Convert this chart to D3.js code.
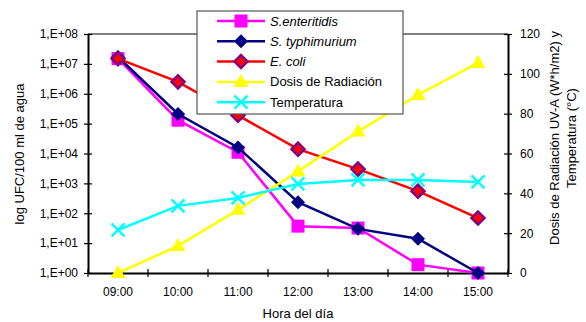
<!DOCTYPE html>
<html><head><meta charset="utf-8">
<script src="https://cdn.jsdelivr.net/npm/d3@7/dist/d3.min.js"></script>
<style>
body{margin:0;background:#fff;}
svg{font-family:"Liberation Sans",Arial,sans-serif;}
</style></head>
<body><svg id="c" width="586" height="322"></svg>
<script>
const categories = ["09:00","10:00","11:00","12:00","13:00","14:00","15:00"];
const enteritidis = [1.5e7, 1.3e5, 1.1e4, 37, 32, 1.9, 1];
const typhimurium = [1.7e7, 2.1e5, 1.6e4, 235, 30, 14, 1];
const ecoli = [1.5e7, 2.5e6, 1.9e5, 1.4e4, 3000, 550, 69];
const dosis = [0, 13.6, 31.7, 51, 71, 89.4, 105.5];
const temperatura = [21.6, 33.7, 37.7, 44.7, 46.7, 46.7, 45.7];
const leftTicks = [1e0,1e1,1e2,1e3,1e4,1e5,1e6,1e7,1e8];
const leftTickLabels = ["1,E+00","1,E+01","1,E+02","1,E+03","1,E+04","1,E+05","1,E+06","1,E+07","1,E+08"];
const rightTicks = [0,20,40,60,80,100,120];
const seriesNames = ["S.enteritidis","S. typhimurium","E. coli","Dosis de Radiación","Temperatura"];

const svg = d3.select("#c");
const L=88, R=508, T=34, B=273;
const x = d3.scaleBand().domain(categories).range([L, R]).padding(0);
const y = d3.scaleLog().domain([1,1e8]).range([B, T]);
const y2 = d3.scaleLinear().domain([0,120]).range([B, T]);
const cx = d => x(d) + x.bandwidth()/2;

// plot border top (gray)
svg.append("line").attr("x1",L).attr("x2",R).attr("y1",T).attr("y2",T).attr("stroke","#808080").attr("stroke-width",2);

// axes
const gl = svg.append("g").attr("transform",`translate(${L},0)`)
  .call(d3.axisLeft(y).tickValues(leftTicks).tickFormat((d,i)=>leftTickLabels[i]).tickSizeInner(4).tickSizeOuter(0).tickPadding(6));
const gr = svg.append("g").attr("transform",`translate(${R},0)`)
  .call(d3.axisRight(y2).tickValues(rightTicks).tickSizeInner(4).tickSizeOuter(0).tickPadding(8));
const gb = svg.append("g").attr("transform",`translate(0,${B})`)
  .call(d3.axisBottom(x).tickSize(0).tickPadding(14));
// bottom ticks at band boundaries
const bounds = categories.map(c=>x(c)).concat([R]);
svg.append("g").selectAll("line").data(bounds).join("line")
  .attr("x1",d=>d).attr("x2",d=>d).attr("y1",B-4).attr("y2",B+4).attr("stroke","#000").attr("stroke-width",1.2);
// left/right cross ticks
[gl,gr].forEach(g=>{
  g.selectAll(".tick line").attr("x1",-4).attr("x2",4).attr("stroke","#000").attr("stroke-width",1.2);
});
[gl,gr,gb].forEach(g=>{
  g.select(".domain").attr("stroke","#000").attr("stroke-width",2);
  g.selectAll(".tick text").attr("font-size",12).attr("fill","#000").attr("font-family","Liberation Sans, Arial, sans-serif");
});

// axis titles
svg.append("text").attr("x",298).attr("y",318).attr("text-anchor","middle").attr("font-size",13).text("Hora del día");
svg.append("text").attr("transform","translate(24,154) rotate(-90)").attr("text-anchor","middle").attr("font-size",13).text("log UFC/100 ml de agua");
svg.append("text").attr("transform","translate(559,138) rotate(-90)").attr("text-anchor","middle").attr("font-size",13).text("Dosis de Radiación UV-A (W*h/m2) y");
svg.append("text").attr("transform","translate(576,138) rotate(-90)").attr("text-anchor","middle").attr("font-size",13).text("Temperatura (°C)");

const lineL = d3.line().x((d,i)=>cx(categories[i])).y(d=>y(d));
const lineR = d3.line().x((d,i)=>cx(categories[i])).y(d=>y2(d));

function marker(g, type, px, py){
  if(type==="square") g.append("rect").attr("x",px-6.5).attr("y",py-6.5).attr("width",13).attr("height",13).attr("fill","#FF00FF");
  else if(type==="diamond") g.append("path").attr("d",`M${px},${py-7}L${px+7},${py}L${px},${py+7}L${px-7},${py}Z`).attr("fill","#000080");
  else if(type==="ecoli") g.append("path").attr("d",`M${px},${py-6.5}L${px+6.5},${py}L${px},${py+6.5}L${px-6.5},${py}Z`).attr("fill","#FF0000").attr("stroke","#800080").attr("stroke-width",2.5);
  else if(type==="tri") g.append("path").attr("d",`M${px},${py-8}L${px+7.5},${py+5}L${px-7.5},${py+5}Z`).attr("fill","#FFFF00");
  else if(type==="x") g.append("path").attr("d",`M${px-6.5},${py-6.5}L${px+6.5},${py+6.5}M${px-6.5},${py+6.5}L${px+6.5},${py-6.5}`).attr("stroke","#00FFFF").attr("stroke-width",2.5);
}

const series = [
  {vals:enteritidis, color:"#FF00FF", m:"square", sc:"L"},
  {vals:typhimurium, color:"#000080", m:"diamond", sc:"L"},
  {vals:ecoli, color:"#FF0000", m:"ecoli", sc:"L"},
  {vals:dosis, color:"#FFFF00", m:"tri", sc:"R"},
  {vals:temperatura, color:"#00FFFF", m:"x", sc:"R"}
];
series.forEach(s=>{
  const g = svg.append("g");
  g.append("path").attr("d",(s.sc==="L"?lineL:lineR)(s.vals)).attr("fill","none").attr("stroke",s.color).attr("stroke-width",2.5);
  s.vals.forEach((v,i)=>marker(g, s.m, cx(categories[i]), s.sc==="L"?y(v):y2(v)));
});

// legend
const lg = svg.append("g");
lg.append("rect").attr("x",197).attr("y",11).attr("width",206).attr("height",103).attr("fill","#fff").attr("stroke","#555").attr("stroke-width",1.2);
seriesNames.forEach((n,i)=>{
  const yy = 21 + i*20.3;
  lg.append("line").attr("x1",217).attr("x2",265).attr("y1",yy).attr("y2",yy).attr("stroke",series[i].color).attr("stroke-width",2.5);
  marker(lg, series[i].m, 241, yy);
  lg.append("text").attr("x",270).attr("y",yy+4.5).attr("font-size",13).attr("font-style",i<3?"italic":"normal").text(n);
});
</script></body></html>
